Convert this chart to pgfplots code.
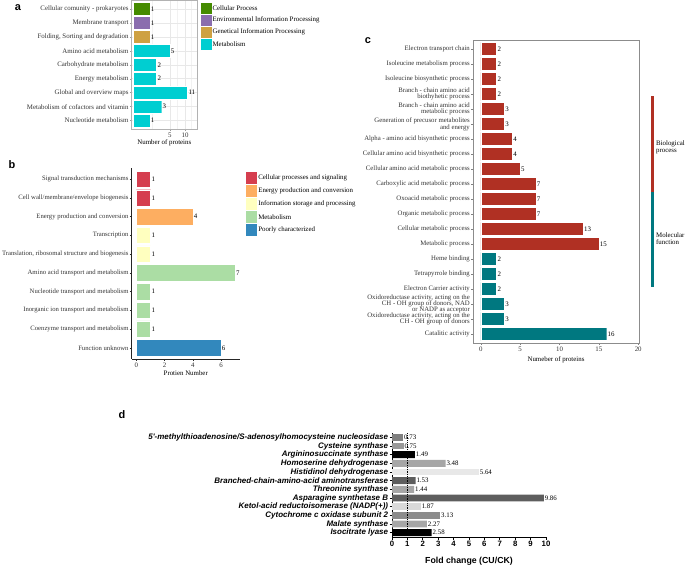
\documentclass[border=0pt]{standalone}
\usepackage{fontspec}
\setmainfont{Liberation Serif}
\newfontfamily\arial{Liberation Sans}
\usepackage{pgfplots}
\pgfplotsset{compat=1.18}
\pgfplotsset{/pgf/number format/assume math mode=true}

% panel a colours
\definecolor{aGreen}{RGB}{69,139,0}
\definecolor{aPurple}{RGB}{138,109,174}
\definecolor{aGold}{RGB}{206,161,66}
\definecolor{aCyan}{RGB}{0,206,209}
% panel b colours
\definecolor{bRed}{RGB}{213,62,79}
\definecolor{bOrange}{RGB}{253,174,97}
\definecolor{bYellow}{RGB}{255,255,191}
\definecolor{bGreen}{RGB}{171,221,164}
\definecolor{bBlue}{RGB}{50,136,189}
% panel c colours
\definecolor{cRed}{RGB}{176,48,35}
\definecolor{cTeal}{RGB}{0,120,128}

\newcommand\fa{\fontsize{6.9}{6.9}\selectfont}
\newcommand\fb{\fontsize{6.7}{6.7}\selectfont}
\newcommand\fc{\fontsize{6.8}{5.7}\selectfont}
\newcommand\fd{\arial\bfseries\itshape\fontsize{8}{8}\selectfont}
\newcommand\letter{\arial\bfseries\fontsize{11}{12}\selectfont}

\pgfplotsset{
  hbar/.style={xbar, bar shift=0pt, draw=white, line width=0.4pt,
    nodes near coords, point meta=explicit symbolic,
    every node near coord/.append style={font=\fa, anchor=west, inner sep=0.8pt, text=black}},
  noarrows/.style={axis line style={-},
    every outer x axis line/.append style={-},
    every outer y axis line/.append style={-}},
}

\begin{document}
\begin{tikzpicture}
\path[use as bounding box] (0,0) rectangle (685bp,-568bp);

% ---------------- panel a ----------------
\node[font=\letter] at (18bp,-8bp) {a};
\begin{axis}[
  at={(131.7bp,-0.5bp)}, anchor=north west, scale only axis,
  width=65.3bp, height=128.5bp,
  x coord trafo/.code={\pgfmathparse{sqrt(abs(#1))*(#1<0 ? -1 : 1)}},
  x coord inv trafo/.code={\pgfmathparse{#1*abs(#1)}},
  xmin=-0.012, xmax=15.2, ymin=0.4, ymax=9.6, y dir=reverse,
  ytick={1,...,9},
  yticklabels={Cellular comunity - prokaryotes, Membrane transport,
    {Folding, Sorting and degradation}, Amino acid metabolism,
    Carbohydrate metabolism, Energy metabolism, Global and overview maps,
    Metabolism of cofactors and vitamin, Nucleotide metabolism},
  xtick={5,10}, xticklabels={5,10}, minor xtick={1.25,7.29,12.37},
  xmajorgrids, xminorgrids, ymajorgrids, tick pos=left,
  grid style={draw=black!9, line width=0.5pt},
  minor grid style={draw=black!5, line width=0.3pt},
  axis line style={draw=black!30, line width=0.5pt},
  tick style={draw=black!40, line width=0.4pt}, tick align=outside,
  major tick length=1.8bp, minor tick length=0pt,
  ticklabel style={font=\fa, text=black!80},
  yticklabel style={inner sep=1.2pt},
  xticklabel style={yshift=1.5bp},
  xlabel={Number of proteins}, xlabel style={font=\fa, yshift=5bp},
]
\addplot[hbar, fill=aGreen, bar width=0.9] coordinates {(1,1) [1]};
\addplot[hbar, fill=aPurple, bar width=0.9] coordinates {(1,2) [1]};
\addplot[hbar, fill=aGold, bar width=0.9] coordinates {(1,3) [1]};
\addplot[hbar, fill=aCyan, bar width=0.9] coordinates {
  (5,4) [5] (2,5) [2] (2,6) [2] (11,7) [11] (3,8) [3] (1,9) [1]};
\end{axis}
% legend a
\foreach \c/\t/\y in {aGreen/Cellular Process/8, aPurple/Environmental Information Processing/20.1,
                      aGold/Genetical Information Processing/32.2, aCyan/Metabolism/44.3}{
  \filldraw[fill=\c, draw=white, line width=0.5pt] (200bp,-\y bp+5.9bp) rectangle (211.8bp,-\y bp-5.9bp);
  \node[anchor=west, font=\fa, inner sep=0.6pt] at (211.8bp,-\y bp) {\t};
}

% ---------------- panel b ----------------
\node[font=\letter] at (12bp,-165bp) {b};
\begin{axis}[
  at={(131.5bp,-168bp)}, anchor=north west, scale only axis,
  width=108.5bp, height=191bp,
  xmin=-0.35, xmax=7.35, ymin=0.4, ymax=10.6, y dir=reverse,
  axis x line*=bottom, axis y line*=left, noarrows,
  axis line style={draw=black!85, line width=0.5pt},
  ytick={1,...,10},
  yticklabels={Signal transduction mechanisms, Cell wall/membrane/envelope biogenesis,
    Energy production and conversion, Transcription,
    {Translation, ribosomal structure and biogenesis},
    Amino acid transport and metabolism, Nucleotide transport and metabolism,
    Inorganic ion transport and metabolism, Coenzyme transport and metabolism,
    Function unknown},
  xtick={0,2,4,6}, xticklabels={0,2,4,6},
  tick style={draw=black!85, line width=0.4pt}, tick align=outside,
  major tick length=1.8bp,
  ticklabel style={font=\fa, text=black!80},
  yticklabel style={font=\fb, inner sep=1pt},
  xticklabel style={yshift=1.5bp},
  xlabel={Protien Number}, xlabel style={font=\fa, yshift=3.5bp},
]
\addplot[hbar, fill=bRed, bar width=0.88] coordinates {(1,1) [1] (1,2) [1]};
\addplot[hbar, fill=bOrange, bar width=0.88] coordinates {(4,3) [4]};
\addplot[hbar, fill=bYellow, bar width=0.88] coordinates {(1,4) [1] (1,5) [1]};
\addplot[hbar, fill=bGreen, bar width=0.88] coordinates {(7,6) [7] (1,7) [1] (1,8) [1] (1,9) [1]};
\addplot[hbar, fill=bBlue, bar width=0.88] coordinates {(6,10) [6]};
\end{axis}
% legend b
\foreach \c/\t/\y in {bRed/Cellular processes and signaling/178, bOrange/Energy production and conversion/191,
                      bYellow/Information storage and processing/204, bGreen/Metabolism/217,
                      bBlue/Poorly characterized/230}{
  \filldraw[fill=\c, draw=white, line width=0.5pt] (245.5bp,-\y bp+6.3bp) rectangle (257.5bp,-\y bp-6.3bp);
  \node[anchor=west, font=\fa, inner sep=0.6pt] at (257.5bp,-\y bp) {\t};
}

% ---------------- panel c ----------------
\node[font=\letter] at (368bp,-41bp) {c};
\begin{axis}[
  at={(473bp,-40bp)}, anchor=north west, scale only axis,
  width=166bp, height=303bp,
  xmin=-1, xmax=20.1, ymin=0.4, ymax=20.6, y dir=reverse,
  ytick={1,...,20}, tick pos=left,
  yticklabels={Electron transport chain, Isoleucine metabolism process,
    Isoleucine biosynthetic process,
    {Branch - chain amino acid\\biothyhetic process},
    {Branch - chain amino acid\\metabolic process},
    {Generation of precusor metabolites\\and energy},
    Alpha - amino acid bisynthetic process, Cellular amino acid bisynthetic process,
    Cellular amino acid metabolic process, Carboxylic acid metabolic process,
    Oxoacid metabolic process, Organic metabolic process, Cellular metabolic process,
    Metabolic process, Heme binding, Tetrapyrrole binding, Electron Carrier activity,
    {Oxidoreductase activity, acting on the\\[-1.3pt]CH - OH group of donors, NAD\\[-1.3pt]or NADP as acceptor},
    {Oxidoreductase activity, acting on the\\[-0.8pt]CH - OH group of donors},
    Catalitic activity},
  xtick={0,5,10,15,20}, xticklabels={0,5,10,15,20},
  axis line style={draw=black!45, line width=0.5pt},
  tick style={draw=black!50, line width=0.4pt}, tick align=outside,
  major tick length=1.8bp,
  ticklabel style={font=\fa, text=black!80},
  yticklabel style={font=\fc, align=right, inner sep=1.2pt},
  xticklabel style={yshift=1.5bp},
  xlabel={Numeber of proteins}, xlabel style={font=\fa, yshift=2bp},
]
\addplot[hbar, fill=cRed, bar width=0.88] coordinates {
  (2,1) [2] (2,2) [2] (2,3) [2] (2,4) [2] (3,5) [3] (3,6) [3] (4,7) [4]
  (4,8) [4] (5,9) [5] (7,10) [7] (7,11) [7] (7,12) [7] (13,13) [13] (15,14) [15]};
\addplot[hbar, fill=cTeal, bar width=0.88] coordinates {
  (2,15) [2] (2,16) [2] (2,17) [2] (3,18) [3] (3,19) [3] (16,20) [16]};
\end{axis}
\fill[cRed] (650.5bp,-96bp) rectangle (653.5bp,-192bp);
\fill[cTeal] (650.5bp,-192bp) rectangle (653.5bp,-287bp);
\node[anchor=west, align=left, font=\fa, inner sep=0pt] at (656bp,-147bp) {Biological\\process};
\node[anchor=west, align=left, font=\fa, inner sep=0pt] at (656bp,-239bp) {Molecular\\function};

% ---------------- panel d ----------------
\node[font=\letter] at (122bp,-415bp) {d};
\begin{axis}[
  at={(392bp,-433bp)}, anchor=north west, scale only axis,
  width=154bp, height=104bp,
  xmin=0, xmax=10, ymin=0.5, ymax=12.5, y dir=reverse,
  axis x line*=bottom, axis y line*=left, noarrows,
  axis line style={draw=black, line width=0.8pt},
  ytick={1,...,12},
  yticklabels={5'-methylthioadenosine/S-adenosylhomocysteine nucleosidase,
    Cysteine synthase, Argininosuccinate synthase, Homoserine dehydrogenase,
    Histidinol dehydrogenase, Branched-chain-amino-acid aminotransferase,
    Threonine synthase, Asparagine synthetase B, Ketol-acid reductoisomerase (NADP(+)),
    Cytochrome c oxidase subunit 2, Malate synthase, Isocitrate lyase},
  xtick={0,...,10}, xticklabels={0,1,2,3,4,5,6,7,8,9,10},
  tick style={draw=black, line width=0.7pt}, tick align=outside,
  major tick length=2.5bp,
  yticklabel style={font=\fd, inner sep=1.2pt},
  xticklabel style={font=\arial\bfseries\fontsize{7.8}{8}\selectfont, inner sep=1.5pt},
  xlabel={Fold change (CU/CK)},
  xlabel style={font=\arial\bfseries\fontsize{8.8}{9}\selectfont, yshift=-5bp},
  every node near coord/.append style={font=\arial\fontsize{5.3}{5.5}\selectfont, text=black!85, inner sep=1pt},
]
\addplot[hbar, fill=black!50, draw=none, bar width=0.8] coordinates {(0.73,1) [0.73]};
\addplot[hbar, fill=black!40, draw=none, bar width=0.8] coordinates {(0.75,2) [0.75]};
\addplot[hbar, fill=black, draw=none, bar width=0.8] coordinates {(1.49,3) [1.49] (2.58,12) [2.58]};
\addplot[hbar, fill=black!35, draw=none, bar width=0.8] coordinates {(3.48,4) [3.48] (1.44,7) [1.44] (2.27,11) [2.27]};
\addplot[hbar, fill=black!9, draw=none, bar width=0.8] coordinates {(5.64,5) [5.64]};
\addplot[hbar, fill=black!63, draw=none, bar width=0.8] coordinates {(1.53,6) [1.53] (9.86,8) [9.86]};
\addplot[hbar, fill=black!15, draw=none, bar width=0.8] coordinates {(1.87,9) [1.87]};
\addplot[hbar, fill=black!45, draw=none, bar width=0.8] coordinates {(3.13,10) [3.13]};
\addplot[black, densely dotted, line width=0.8pt, mark=none] coordinates {(1,0.5) (1,12.5)};
\end{axis}
\end{tikzpicture}
\end{document}
